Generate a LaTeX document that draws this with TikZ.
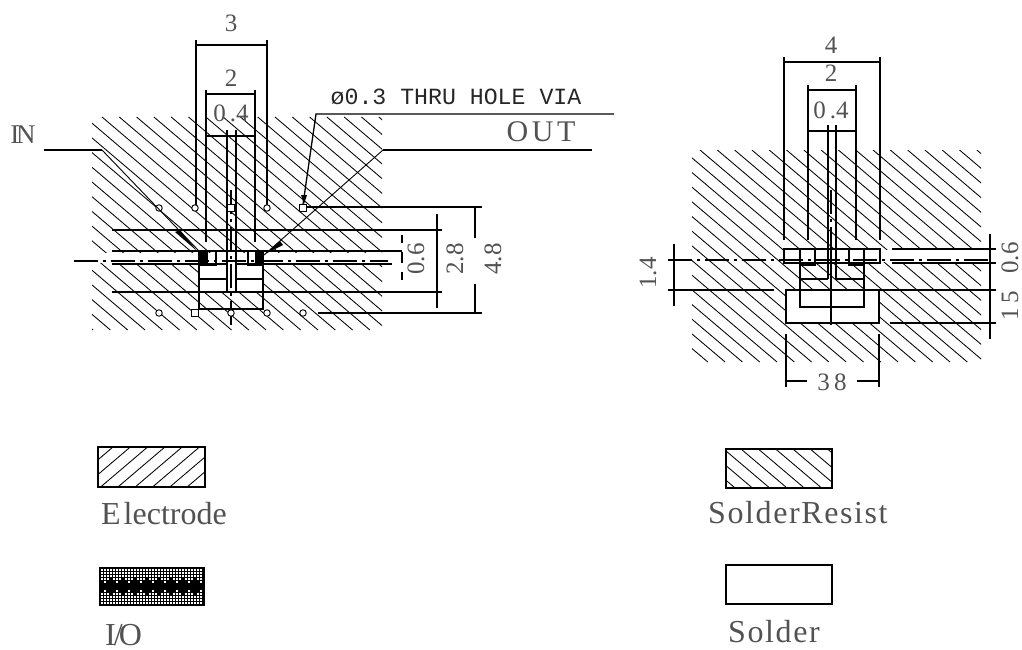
\documentclass[tikz,border=0pt]{standalone}
\usepackage{fontspec}
\setmainfont{Liberation Serif}
\newfontfamily\viafont{Liberation Mono}
\newfontfamily\spaced[LetterSpace=12]{Liberation Serif}
\definecolor{txt}{gray}{0.32}
\tikzset{
  ln/.style={line width=1.3pt,black},
  thinln/.style={line width=0.9pt,black},
  hatchln/.style={line width=0.85pt,black},
  centre/.style={line width=1.05pt,dash pattern=on 24pt off 5pt on 3pt off 5pt},
  dimtxt/.style={text=txt,font=\fontsize{25}{25}\selectfont,inner sep=0pt},
  legtxt/.style={text=txt,font=\fontsize{32}{32}\selectfont,inner sep=0pt},
  pad/.style={fill=black,draw=black,line width=0.6pt},
  viaR/.style={draw=black,line width=0.9pt,fill=white,circle,minimum size=6.5pt,inner sep=0pt},
  viaS/.style={draw=black,line width=0.9pt,fill=white,rectangle,minimum size=6.5pt,inner sep=0pt},
}
\begin{document}
\begin{tikzpicture}[x=1pt,y=-1pt]
\useasboundingbox (0,0) rectangle (1022,650);
% ---------- left hatching
\begin{scope}
\clip (92,117) rectangle (382,330);
\foreach \k in {-15,...,17}{
  \draw[hatchln] ({102+17.3*\k},117) -- ({102+17.3*\k+250.6},330);
}
\end{scope}
\fill[white] (92,253) rectangle (382,263);
\fill[white] (199,265) rectangle (263,291);
% ---------- right hatching
\begin{scope}
\clip (692,150) rectangle (981,362);
\foreach \k in {-15,...,17}{
  \draw[hatchln] ({700+17.3*\k},150) -- ({700+17.3*\k+250},362);
}
\end{scope}
\fill[white] (880,250) rectangle (985,262);
\fill[white] (786,290) rectangle (879,323);
\fill[white] (784,249) rectangle (880,263);
% ---------- left dimensions
\draw[ln] (196,40) -- (196,205) (267,40) -- (267,205) (196,45) -- (267,45);
\draw[ln] (206,90) -- (206,242) (255,90) -- (255,242) (206,94) -- (255,94);
\draw[ln] (206,136) -- (255,136);
\draw[ln] (227,130) -- (227,292) (236,130) -- (236,292);
\draw[thinln,centre] (231,190) -- (231,328);
\node[dimtxt] (l3) at (231,23) {3};
\node[dimtxt] (l2) at (231,78) {2};
\node[dimtxt] (l04) at (231,113) {0\,.4};
% ---------- left bands
\draw[ln] (112,230) -- (442,230);
\draw[ln] (112,292) -- (442,292);
\draw[ln] (304,207) -- (482,207);
\draw[ln] (318,313) -- (482,313);
\draw[ln] (112,251) -- (402,251);
\draw[ln] (112,264) -- (228,264) (236,264) -- (392,264);
\draw[thinln,centre] (74,261) -- (388,261);
% ---------- left component
\draw[ln] (199,250) -- (199,309) -- (263,309) -- (263,250);
\draw[ln] (199,279) -- (228,279) (236,279) -- (263,279);
\draw[pad] (199,250) rectangle (207,265);
\draw[pad] (255,250) rectangle (263,265);
\draw[ln] (207,265) -- (216,265) -- (216,250);
\draw[ln] (255,265) -- (248,265) -- (248,250);
% vias
\foreach \n/\x/\y/\s in {a/159/208/viaR,b/195/208/viaR,c/231/208/viaS,d/267/208/viaR,e/303/208/viaS,
                         f/159/313/viaR,g/195/313/viaS,h/231/313/viaR,i/267/313/viaR,j/303/313/viaR}{
  \node[\s] (via\n) at (\x,\y) {};
}
% ---------- left leaders
\coordinate (inA) at (44,150);
\coordinate (inB) at (102,150);
\coordinate (inT) at (198,250);
\coordinate (outA) at (592,150);
\coordinate (outB) at (383,150);
\coordinate (outT) at (264,255);
\coordinate (leadA) at (614,114);
\coordinate (leadB) at (316,114);
\draw[ln] (inA) -- (inB);
\draw[thinln] (inB) -- (inT);
\draw[ln] (outA) -- (outB);
\draw[thinln] (outB) -- (outT);
\fill (197,251) -- (175,232) -- (180,230) -- cycle;
\fill (265,254) -- (280,241) -- (283,245) -- cycle;
\draw[ln] (leadA) -- (leadB) -- (viae.north);
\fill (304,204) -- (301,195) -- (307,195) -- cycle;
\node[text=txt,font=\fontsize{27}{27}\selectfont,inner sep=0pt] (inlbl) at (23,135) {I\kern-3ptN};
\node[text=txt,font=\spaced\fontsize{30}{30}\selectfont,inner sep=0pt] (outlbl) at (541,132) {OUT};
\node[text=black!85,font=\viafont\fontsize{23.2}{23.2}\selectfont,inner sep=0pt] (vialbl) at (456,97) {ø0.3 THRU HOLE VIA};
% ---------- left right-hand dims
\draw[ln] (402,235) -- (402,243) (402,252) -- (402,263) (402,272) -- (402,280);
\draw[ln] (437,214) -- (437,308);
\draw[ln] (475,207) -- (475,238) (475,284) -- (475,313);
\node[dimtxt,rotate=90] (l06) at (416,259) {0.6};
\node[dimtxt,rotate=90] (l28) at (455,259) {2.8};
\node[dimtxt,rotate=90] (l48) at (493,259) {4.8};
% ---------- right dimensions
\draw[ln] (784,57) -- (784,240) (880,57) -- (880,240) (784,62) -- (880,62);
\draw[ln] (808,85) -- (808,240) (856,85) -- (856,240) (808,90) -- (856,90);
\draw[ln] (808,131) -- (856,131);
\draw[ln] (828,125) -- (828,279) (836,125) -- (836,279);
\draw[thinln,centre] (831,190) -- (831,325);
\node[dimtxt] (r4) at (831,45) {4};
\node[dimtxt] (r2) at (831,73) {2};
\node[dimtxt] (r04) at (831,110) {0\,.4};
% ---------- right bands
\draw[ln] (784,249) rectangle (880,263);
\draw[ln] (892,249) -- (996,249) (892,263) -- (996,263);
\draw[thinln,centre] (668,260) -- (990,260);
\draw[ln] (668,290) -- (774,290) (785,290) -- (996,290);
\draw[ln] (890,323) -- (996,323);
\draw[ln] (786,290) rectangle (879,323);
\draw[ln] (800,249) -- (800,307) -- (864,307) -- (864,249);
\draw[ln] (800,279) -- (828,279) (836,279) -- (864,279);
\draw[ln] (800,265) -- (815,265) -- (815,249) (864,265) -- (849,265) -- (849,249);
\draw[thinln,centre] (831,240) -- (831,325);
% outer dims
\draw[ln] (674,244) -- (674,306);
\draw[ln] (990,234) -- (990,339);
\draw[ln] (786,334) -- (786,387) (879,334) -- (879,387);
\draw[ln] (786,381) -- (807,381) (857,381) -- (879,381);
\node[dimtxt,rotate=90] (r14) at (648,273) {1.4};
\node[dimtxt,rotate=90] (r06) at (1010,258) {0.6};
\node[dimtxt,rotate=90] (r15) at (1010,306) {1\,5};
\node[dimtxt] (r38) at (832,382) {3\,8};
% ---------- legend
\begin{scope}
\clip (98,447) rectangle (205,487);
\foreach \k in {0,...,9}{
  \draw[hatchln] ({66+17.3*\k},487) -- ({66+17.3*\k+47},447);
}
\end{scope}
\draw[ln] (98,447) rectangle (205,487);
\node[legtxt,anchor=west] (electrode) at (101,514) {E\kern3pt lectrode};
% I/O swatch
\fill[black] (99,567) rectangle (205,606);
\foreach \y in {570,573,...,603}{
  \foreach \x in {102,105,...,203}{
    \pgfmathsetmacro{\dv}{abs(\y-586.5)-5-2.5*sin(\x*30)}
    \ifdim\dv pt>0pt \fill[white] (\x-0.8,\y-0.8) rectangle (\x+0.8,\y+0.8);\fi
  }
}
\node[legtxt,anchor=west] (iolbl) at (105,635) {I\kern-2pt/\kern-4ptO};
\begin{scope}
\clip (726,449) rectangle (832,488);
\foreach \k in {-3,...,6}{
  \draw[hatchln] ({741+17.3*\k},449) -- ({741+17.3*\k+46},488);
}
\end{scope}
\draw[ln] (726,449) rectangle (832,488);
\node[legtxt,anchor=west] (resist) at (708,513) {\addfontfeature{LetterSpace=5}SolderResist};
\draw[ln] (726,565) rectangle (832,604);
\node[name=solder,legtxt,anchor=west] at (728,632) {\addfontfeature{LetterSpace=5}Solder};
\end{tikzpicture}
\end{document}
